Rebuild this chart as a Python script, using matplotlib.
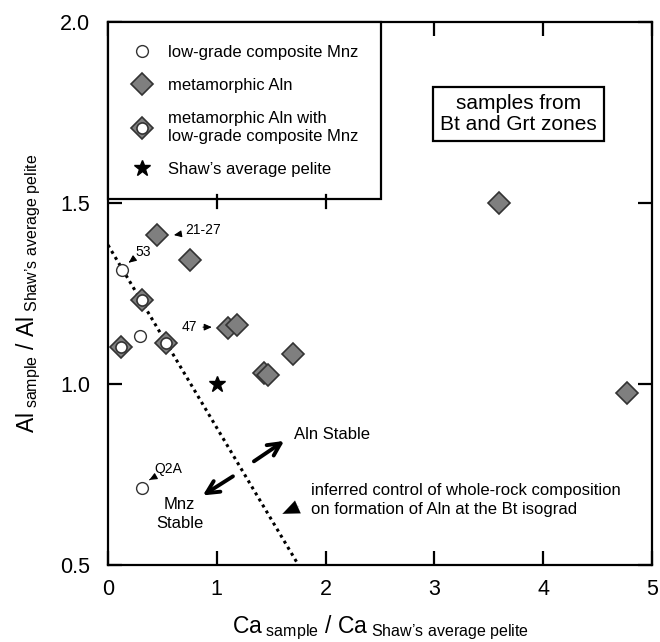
import matplotlib
matplotlib.use("Agg")
import matplotlib.pyplot as plt
from matplotlib.lines import Line2D

plt.rcParams['font.family'] = ['Liberation Sans', 'DejaVu Sans']
plt.rcParams['mathtext.fontset'] = 'custom'
plt.rcParams['mathtext.rm'] = 'Liberation Sans'
plt.rcParams['mathtext.it'] = 'Liberation Sans'

# low-grade composite Mnz
mnz_x = [0.13, 0.29, 0.31]
mnz_y = [1.315, 1.133, 0.713]

# metamorphic Aln
aln_x = [0.45, 0.75, 1.10, 1.19, 1.43, 1.47, 1.70, 3.59, 4.77]
aln_y = [1.412, 1.343, 1.155, 1.163, 1.030, 1.025, 1.083, 1.500, 0.975]

# metamorphic Aln with low-grade composite Mnz
both_x = [0.31, 0.12, 0.53]
both_y = [1.232, 1.102, 1.113]

# Shaw's average pelite
shaw_x = [1.0]
shaw_y = [1.0]

# inferred boundary (dotted line)
bound_x = [0.0, 1.75]
bound_y = [1.384, 0.5]

gray = '#7f7f7f'
edge = '#333333'

fig = plt.figure(figsize=(6.6, 6.42), dpi=100)
ax = fig.add_axes([0.1636, 0.120, 0.8244, 0.8457])

ax.plot(bound_x, bound_y, color='black', lw=2.2, linestyle=(0, (1.0, 1.3)), zorder=2)

ax.plot(aln_x, aln_y, 'D', ms=11.5, mfc=gray, mec=edge, mew=1.2, zorder=3)
ax.plot(both_x, both_y, 'D', ms=11, mfc=gray, mec=edge, mew=1.2, zorder=3)
ax.plot(both_x, both_y, 'o', ms=8, mfc='white', mec=edge, mew=1.2, zorder=4)
ax.plot(mnz_x, mnz_y, 'o', ms=8.5, mfc='white', mec=edge, mew=1.0, zorder=3)
ax.plot(shaw_x, shaw_y, '*', ms=12, color='black', zorder=3)

ax.set_xlim(0, 5)
ax.set_ylim(0.5, 2.0)
ax.set_xticks([0, 1, 2, 3, 4, 5])
ax.set_yticks([0.5, 1.0, 1.5, 2.0])
ax.set_yticklabels(['0.5', '1.0', '1.5', '2.0'])
ax.tick_params(direction='in', length=10, width=1.6, top=True, right=True,
               labelsize=15.5)
ax.tick_params(axis='y', pad=13)
ax.tick_params(axis='x', pad=10)
for s in ax.spines.values():
    s.set_linewidth(1.6)

ax.set_xlabel("Ca$_{\\mathrm{\\ sample}}$ / Ca$_{\\mathrm{\\ Shaw\u2019s\\ average\\ pelite}}$",
              fontsize=16.5, labelpad=10)
ax.set_ylabel("Al$_{\\mathrm{\\ sample}}$ / Al$_{\\mathrm{\\ Shaw\u2019s\\ average\\ pelite}}$",
              fontsize=16.5, labelpad=12)

# legend
h_mnz = Line2D([], [], ls='none', marker='o', ms=8.5, mfc='white', mec=edge, mew=1.0)
h_aln = Line2D([], [], ls='none', marker='D', ms=11.5, mfc=gray, mec=edge, mew=1.2)
h_both_d = Line2D([], [], ls='none', marker='D', ms=11, mfc=gray, mec=edge, mew=1.2)
h_both_o = Line2D([], [], ls='none', marker='o', ms=8, mfc='white', mec=edge, mew=1.2)
h_shaw = Line2D([], [], ls='none', marker='*', ms=12, color='black')
leg = ax.legend([h_mnz, h_aln, (h_both_d, h_both_o), h_shaw],
                ['low-grade composite Mnz', 'metamorphic Aln',
                 'metamorphic Aln with\nlow-grade composite Mnz',
                 "Shaw\u2019s average pelite"],
                loc='upper left', bbox_to_anchor=(0, 1), borderaxespad=0,
                fontsize=12, frameon=True, fancybox=False, edgecolor='black',
                framealpha=1, handlelength=1.4, handletextpad=0.85,
                borderpad=1.35, labelspacing=1.1)
leg.get_frame().set_linewidth(1.6)

# top ticks hanging below the legend box
for xt in [1, 2]:
    ax.plot([xt, xt], [1.521, 1.486], color='black', lw=1.6, zorder=6)

ax.text(3.77, 1.746, "samples from\nBt and Grt zones", fontsize=15, ha='center',
        va='center', linespacing=1.1,
        bbox=dict(boxstyle='square,pad=0.35', fc='white', ec='black', lw=1.6))

# sample labels
small = dict(arrowstyle='-|>,head_length=0.45,head_width=0.2', color='black', lw=0.8)
ax.annotate('21-27', xy=(0.58, 1.41), xytext=(0.71, 1.425), fontsize=10,
            va='center', arrowprops=small)
ax.annotate('53', xy=(0.19, 1.335), xytext=(0.25, 1.365), fontsize=10,
            va='center', arrowprops=small)
ax.annotate('47', xy=(0.98, 1.157), xytext=(0.68, 1.157), fontsize=10,
            va='center', arrowprops=small)
ax.annotate('Q2A', xy=(0.38, 0.735), xytext=(0.43, 0.765), fontsize=10,
            va='center', arrowprops=small)

big = dict(arrowstyle='->,head_length=0.9,head_width=0.45', color='black', lw=2.8)
ax.annotate('', xy=(1.64, 0.847), xytext=(1.32, 0.782), arrowprops=big)
ax.annotate('', xy=(0.85, 0.688), xytext=(1.17, 0.749), arrowprops=big)
ax.text(1.71, 0.86, 'Aln Stable', fontsize=12, va='center')
ax.text(0.66, 0.64, 'Mnz\nStable', fontsize=12, ha='center', va='center',
        linespacing=1.3)
ax.text(1.87, 0.68, 'inferred control of whole-rock composition\n'
        'on formation of Aln at the Bt isograd', fontsize=12, va='center',
        linespacing=1.3)
ax.annotate('', xy=(1.58, 0.638), xytext=(1.78, 0.665),
            arrowprops=dict(arrowstyle='-|>,head_length=1.2,head_width=0.5',
                            color='black', lw=0.1))

fig.savefig('out.png', dpi=100)
